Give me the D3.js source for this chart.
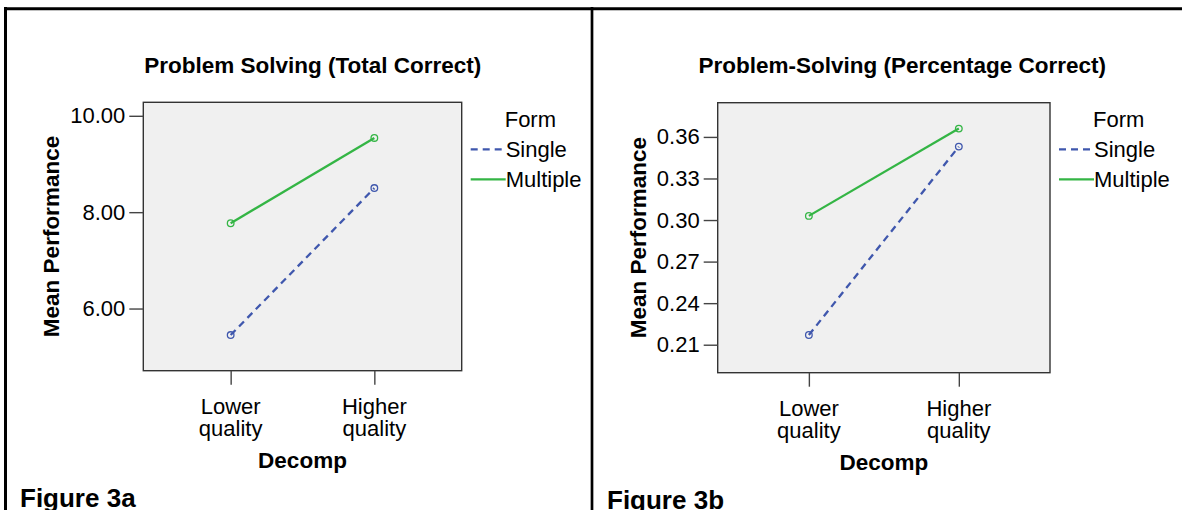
<!DOCTYPE html>
<html>
<head>
<meta charset="utf-8">
<script src="https://cdn.jsdelivr.net/npm/d3@7"></script>
<style>
  body { margin: 0; background: #fff; }
  svg { display: block; font-family: Arial, "Liberation Sans", sans-serif; }
</style>
</head>
<body>
<div id="chart"></div>
<script>
// data
var categories = ["Lower quality", "Higher quality"];
var categoryLines = [["Lower", "quality"], ["Higher", "quality"]];
var seriesNames = ["Single", "Multiple"];

var totalSingle = [5.45, 8.50];
var totalMultiple = [7.77, 9.54];
var totalTicks = [6, 8, 10];

var pctSingle = [0.217, 0.353];
var pctMultiple = [0.303, 0.366];
var pctTicks = [0.21, 0.24, 0.27, 0.30, 0.33, 0.36];

window.w = 1182;
window.h = 510;

var colors = { "Single": "#3f57ad", "Multiple": "#34b545" };
var dashes = { "Single": "7,5", "Multiple": null };

const svg = d3.select("#chart")
  .append("svg")
  .attr("width", w)
  .attr("height", h);

// outer frame (cut at right and bottom in the original)
svg.append("line").attr("x1", 4).attr("x2", w).attr("y1", 8.7).attr("y2", 8.7)
  .attr("stroke", "#000").attr("stroke-width", 3);
svg.append("line").attr("x1", 5.5).attr("x2", 5.5).attr("y1", 7).attr("y2", h)
  .attr("stroke", "#000").attr("stroke-width", 3);
svg.append("line").attr("x1", 592).attr("x2", 592).attr("y1", 7).attr("y2", h)
  .attr("stroke", "#000").attr("stroke-width", 2.7);

drawPanel({
  left: 143.3, right: 461.7, top: 102.3, bottom: 370.7,
  domain: [4.71, 10.28], ticks: totalTicks, format: d3.format(".2f"),
  values: { "Single": totalSingle, "Multiple": totalMultiple },
  title: "Problem Solving (Total Correct)", titleX: 312.8, titleY: 72.7,
  yLabelX: 59, figure: "Figure 3a", figureX: 20, figureY: 506.5
});

drawPanel({
  left: 717.7, right: 1050, top: 102.7, bottom: 372.7,
  domain: [0.1898, 0.3847], ticks: pctTicks, format: d3.format(".2f"),
  values: { "Single": pctSingle, "Multiple": pctMultiple },
  title: "Problem-Solving (Percentage Correct)", titleX: 902.3, titleY: 73.3,
  yLabelX: 646, figure: "Figure 3b", figureX: 607, figureY: 509
});

function drawPanel(p) {
  var yScale = d3.scaleLinear()
    .domain(p.domain)
    .range([p.bottom, p.top]);

  var xScale = d3.scalePoint()
    .domain(categories)
    .range([p.left, p.right])
    .padding(0.608);

  var g = svg.append("g");

  // plot background
  g.append("rect")
    .attr("x", p.left).attr("y", p.top)
    .attr("width", p.right - p.left).attr("height", p.bottom - p.top)
    .attr("fill", "#f0f0f0")
    .attr("stroke", "#333").attr("stroke-width", 1.4);

  var yAxis = d3.axisLeft(yScale)
    .tickValues(p.ticks)
    .tickFormat(p.format)
    .tickSize(14)
    .tickPadding(4);

  var ya = g.append("g")
    .attr("transform", "translate(" + p.left + ",0)")
    .call(yAxis);
  ya.select(".domain").remove();
  ya.selectAll(".tick line").attr("stroke", "#444").attr("stroke-width", 1.4);
  ya.selectAll(".tick text").attr("font-size", 22).attr("fill", "#000")
    .attr("font-family", "Arial, 'Liberation Sans', sans-serif");

  var xAxis = d3.axisBottom(xScale)
    .tickSize(14)
    .tickFormat("");

  var xa = g.append("g")
    .attr("transform", "translate(0," + p.bottom + ")")
    .call(xAxis);
  xa.select(".domain").remove();
  xa.selectAll(".tick line").attr("stroke", "#444").attr("stroke-width", 1.4);

  // two-line category labels
  categories.forEach(function(c, i) {
    var t = g.append("text")
      .attr("x", xScale(c))
      .attr("y", p.bottom + 43)
      .attr("text-anchor", "middle")
      .attr("font-size", 22);
    categoryLines[i].forEach(function(line, j) {
      t.append("tspan").attr("x", xScale(c)).attr("dy", j == 0 ? 0 : 22).text(line);
    });
  });

  g.append("text")
    .attr("x", (p.left + p.right) / 2)
    .attr("y", p.bottom + 97)
    .attr("text-anchor", "middle")
    .attr("font-size", 22.5).attr("font-weight", "bold")
    .text("Decomp");

  g.append("text")
    .attr("transform", "translate(" + p.yLabelX + "," + ((p.top + p.bottom) / 2) + ") rotate(-90)")
    .attr("text-anchor", "middle")
    .attr("font-size", 22.5).attr("font-weight", "bold")
    .text("Mean Performance");

  g.append("text")
    .attr("x", p.titleX).attr("y", p.titleY)
    .attr("text-anchor", "middle")
    .attr("font-size", 22.5).attr("font-weight", "bold")
    .text(p.title);

  g.append("text")
    .attr("x", p.figureX).attr("y", p.figureY)
    .attr("font-size", 26).attr("font-weight", "bold")
    .text(p.figure);

  // lines + open circle markers
  seriesNames.forEach(function(s) {
    var data = p.values[s];
    g.append("path")
      .datum(data)
      .attr("fill", "none")
      .attr("stroke", colors[s])
      .attr("stroke-width", 2.3)
      .attr("stroke-dasharray", dashes[s])
      .attr("d", d3.line()
        .x(function(d, i) { return xScale(categories[i]) })
        .y(function(d) { return yScale(d) })
      );
    g.selectAll(null)
      .data(data)
      .enter().append("circle")
      .attr("cx", function(d, i) { return xScale(categories[i]) })
      .attr("cy", function(d) { return yScale(d) })
      .attr("r", 3.3)
      .attr("fill", "none")
      .attr("stroke", colors[s])
      .attr("stroke-width", 1.3);
  });

  // legend
  var lx = p.right + 9;
  g.append("text")
    .attr("x", p.right + 43).attr("y", 126.7)
    .attr("font-size", 22)
    .text("Form");
  seriesNames.forEach(function(s, i) {
    var ly = 149.3 + i * 30;
    g.append("line")
      .attr("x1", lx).attr("x2", lx + 35)
      .attr("y1", ly).attr("y2", ly)
      .attr("stroke", colors[s])
      .attr("stroke-width", 2.3)
      .attr("stroke-dasharray", dashes[s]);
    g.append("text")
      .attr("x", p.right + 44).attr("y", ly + 7.4)
      .attr("font-size", 22)
      .text(s);
  });
}
</script>
</body>
</html>
